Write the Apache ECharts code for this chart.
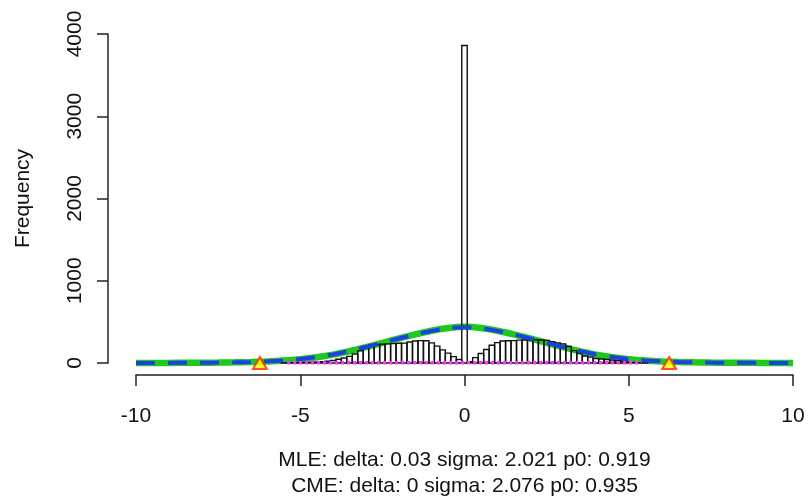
<!DOCTYPE html>
<html>
<head>
<meta charset="utf-8">
<script src="https://cdn.jsdelivr.net/npm/echarts@6/dist/echarts.min.js"></script>
<style>
html,body{margin:0;padding:0;background:#fff;}
#chart{width:809px;height:504px;}
</style>
</head>
<body>
<div id="chart"></div>
<script>
// Histogram: bin width and first bin centre (x units), counts per bin
const binWidth = 1 / 6;
const firstBinCenter = -5.5;
const counts = [
  2, 3, 4, 5, 7, 9, 12, 16, 22, 30,
  45, 60, 80, 110, 150, 200, 222, 225, 228, 232,
  236, 240, 242, 255, 268, 272, 270, 245, 205, 160,
  120, 78, 42, 3860, 16, 65, 115, 165, 215, 248,
  268, 271, 272, 278, 280, 280, 282, 280, 275, 258,
  245, 232, 200, 150, 118, 85, 72, 55, 48, 42,
  35, 28, 22, 12, 6, 4, 2
];

// Fitted curves
const curveX = [-10, -9.5, -9, -8.5, -8, -7.5, -7, -6.5, -6, -5.5, -5, -4.5, -4, -3.5, -3, -2.5, -2, -1.5, -1, -0.5,
  0, 0.5, 1, 1.5, 2, 2.5, 3, 3.5, 4, 4.5, 5, 5.5, 6, 6.5, 7, 7.5, 8, 8.5, 9, 9.5, 10];
const greenY = [0.5, 0.8, 1.2, 2, 3, 5, 8, 12, 19, 30, 46, 70, 102, 143, 192, 245, 298, 348, 392, 425,
  440, 425, 392, 348, 298, 245, 192, 143, 102, 70, 46, 30, 19, 12, 8, 5, 3, 2, 1.2, 0.8, 0.5];
const blueY = [0.5, 0.8, 1.2, 2, 3.2, 5, 8, 12.5, 20, 31, 48, 72, 104, 145, 194, 246, 298, 347, 390, 422,
  436, 422, 390, 347, 298, 246, 194, 145, 104, 72, 48, 31, 20, 12.5, 8, 5, 3.2, 2, 1.2, 0.8, 0.5];

// Magenta dotted line near zero
const magentaX = [-5.4, 5.4];
const magentaY = [3, 3];

// Triangle markers
const triX = [-6.23, 6.23];
const triY = [0, 0];

// Axis ticks
const xTickMin = -10, xTickMax = 10, xTickStep = 5;
const yTickMin = 0, yTickMax = 4000, yTickStep = 1000;

const line1 = 'MLE: delta: 0.03 sigma: 2.021 p0: 0.919';
const line2 = 'CME: delta: 0 sigma: 2.076 p0: 0.935';

const barData = counts.map((c, i) => {
  const center = firstBinCenter + i * binWidth;
  return [center - binWidth / 2, center + binWidth / 2, c];
});
const zip = (a, b) => a.map((v, i) => [v, b[i]]);

const FONT = 'Liberation Sans, Arial, sans-serif';
const chart = echarts.init(document.getElementById('chart'), null, {renderer: 'canvas'});
chart.setOption({
  backgroundColor: '#ffffff',
  animation: false,
  grid: {left: 136, right: 16, top: 34, bottom: 141},
  xAxis: {
    type: 'value', min: xTickMin, max: xTickMax, interval: xTickStep,
    offset: 12,
    axisLine: {show: true, onZero: false, lineStyle: {color: '#222', width: 1.5}},
    axisTick: {show: true, length: 11, lineStyle: {color: '#222', width: 1.5}},
    axisLabel: {color: '#111', fontSize: 21, fontFamily: FONT, margin: 31,
      formatter: v => String(v)},
    splitLine: {show: false},
    name: line1 + '\n' + line2,
    nameLocation: 'middle',
    nameGap: 72,
    nameTextStyle: {color: '#111', fontSize: 21, fontFamily: FONT, lineHeight: 26}
  },
  yAxis: {
    type: 'value', min: yTickMin, max: yTickMax, interval: yTickStep,
    offset: 28,
    axisLine: {show: true, onZero: false, lineStyle: {color: '#222', width: 1.5}},
    axisTick: {show: true, length: 11, lineStyle: {color: '#222', width: 1.5}},
    axisLabel: {color: '#111', fontSize: 21, fontFamily: FONT, rotate: 90, margin: 22,
      formatter: v => String(v)},
    splitLine: {show: false},
    name: 'Frequency',
    nameLocation: 'middle',
    nameGap: 74,
    nameTextStyle: {color: '#111', fontSize: 21, fontFamily: FONT}
  },
  series: [
    {
      type: 'line', data: zip(curveX, greenY), smooth: 0.3, showSymbol: false, clip: false, z: 1,
      lineStyle: {color: '#1ec81e', width: 6.5}
    },
    {
      type: 'custom', data: barData, clip: false, z: 2,
      encode: {x: [0, 1], y: 2},
      renderItem: function (params, api) {
        const p0 = api.coord([api.value(0), api.value(2)]);
        const p1 = api.coord([api.value(1), 0]);
        return {
          type: 'rect',
          shape: {x: p0[0], y: p0[1], width: p1[0] - p0[0], height: p1[1] - p0[1]},
          style: {fill: 'none', stroke: '#111', lineWidth: 1.4}
        };
      }
    },
    {
      type: 'line', data: zip(curveX, blueY), smooth: 0.3, showSymbol: false, clip: false, z: 3,
      lineStyle: {color: '#1f3fe6', width: 4, type: [19, 13]}
    },
    {
      type: 'line', data: zip(magentaX, magentaY), showSymbol: false, clip: false, z: 4,
      lineStyle: {color: '#ff33ff', width: 3.5, type: [3, 3]}
    },
    {
      type: 'scatter', data: zip(triX, triY), symbol: 'triangle', symbolSize: [14, 12], clip: false, z: 5,
      itemStyle: {color: '#ffff00', borderColor: '#ff2a00', borderWidth: 2}
    }
  ]
});
</script>
</body>
</html>
